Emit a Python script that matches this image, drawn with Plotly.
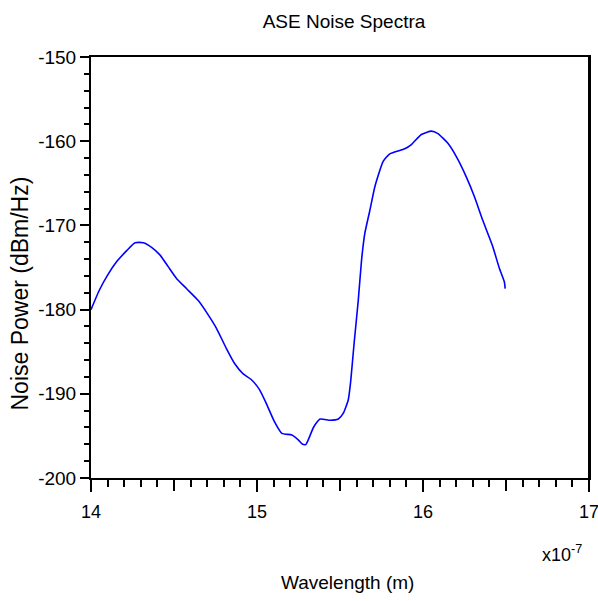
import plotly.graph_objects as go

# Wavelength in units of 1e-7 m
wavelength = [14.00, 14.05, 14.10, 14.155, 14.215, 14.265, 14.315, 14.365, 14.415, 14.465,
              14.515, 14.575, 14.645, 14.705, 14.755, 14.815, 14.865, 14.915, 14.965, 15.015,
              15.055, 15.105, 15.15, 15.21, 15.25, 15.275, 15.295, 15.34, 15.38, 15.44,
              15.49, 15.52, 15.55, 15.565, 15.585, 15.61, 15.63, 15.65, 15.68, 15.71,
              15.76, 15.80, 15.89, 15.93, 15.99, 16.05, 16.09, 16.15, 16.20, 16.26,
              16.31, 16.36, 16.42, 16.46, 16.49, 16.495]
noise_power = [-180.0, -177.7, -175.9, -174.3, -173.0, -172.05, -172.05, -172.6, -173.5, -174.9,
               -176.3, -177.5, -178.9, -180.6, -182.2, -184.6, -186.4, -187.6, -188.3, -189.5,
               -191.1, -193.3, -194.7, -194.9, -195.5, -196.0, -196.0, -194.0, -193.0, -193.15,
               -193.0, -192.3, -190.7, -188.4, -184.0, -178.9, -174.1, -170.9, -168.2, -165.4,
               -162.4, -161.5, -160.9, -160.4, -159.2, -158.8, -159.1, -160.25, -161.8, -164.2,
               -166.6, -169.4, -172.5, -175.1, -176.7, -177.5]

x_tickvals = [14, 15, 16, 17]
x_ticktext = ["14", "15", "16", "17"]
x_half_ticks = [14.5, 15.5, 16.5]
y_tickvals = [-200, -190, -180, -170, -160, -150]
y_ticktext = ["-200", "-190", "-180", "-170", "-160", "-150"]

FONT = "Liberation Sans, Arial, sans-serif"

fig = go.Figure()
fig.add_trace(go.Scatter(x=wavelength, y=noise_power, mode="lines",
                         line=dict(color="#0000ff", width=1.6, shape="spline", smoothing=0.5),
                         showlegend=False))
# carrier trace for the overlay axis that draws the unlabeled half-unit ticks
fig.add_trace(go.Scatter(x=wavelength, y=noise_power, mode="none", xaxis="x2",
                         showlegend=False, hoverinfo="skip"))

fig.update_layout(
    width=598, height=601,
    margin=dict(l=91, r=9, t=57, b=123),
    paper_bgcolor="white", plot_bgcolor="white",
    font=dict(family=FONT, size=19, color="black"),
    title=dict(text="ASE Noise Spectra", x=344/598, xanchor="center",
               y=1-21.5/601, yanchor="middle", font=dict(size=19)),
    xaxis=dict(range=[14, 17], tickmode="array", tickvals=x_tickvals, ticktext=x_ticktext,
               ticks="outside", ticklen=12, tickwidth=2, tickcolor="black",
               showline=True, linecolor="black", linewidth=2, mirror=True,
               showgrid=False, zeroline=False, ticklabelstandoff=4, automargin=False,
               ticklabeloverflow="allow", tickfont=dict(size=18),
               minor=dict(dtick=0.1, tick0=14, ticks="outside", ticklen=7,
                          tickwidth=2, tickcolor="black", showgrid=False)),
    xaxis2=dict(range=[14, 17], overlaying="x", side="bottom", anchor="y", tickmode="array",
                tickvals=x_half_ticks, showticklabels=False,
                ticks="outside", ticklen=12, tickwidth=2, tickcolor="black",
                showline=False, showgrid=False, zeroline=False, automargin=False),
    yaxis=dict(range=[-200, -150], tickmode="array", tickvals=y_tickvals, ticktext=y_ticktext,
               ticks="outside", ticklen=9, tickwidth=2, tickcolor="black",
               showline=True, linecolor="black", linewidth=2, mirror=True,
               showgrid=False, zeroline=False, tickfont=dict(size=19), automargin=False,
               minor=dict(dtick=2, tick0=-200, ticks="outside", ticklen=5,
                          tickwidth=2, tickcolor="black", showgrid=False)),
)

# right frame edge
fig.add_shape(type="line", xref="paper", yref="paper", x0=1, x1=1, y0=0, y1=1,
              line=dict(color="black", width=2))

fig.add_annotation(text="Wavelength (m)", xref="paper", yref="paper",
                   x=(347.5-91)/498, y=(478-582)/421, xanchor="center", yanchor="middle",
                   showarrow=False, font=dict(size=19))
fig.add_annotation(text="Noise Power (dBm/Hz)", xref="paper", yref="paper",
                   x=(19.5-91)/498, y=(478-294)/421, xanchor="center", yanchor="middle",
                   textangle=-90, showarrow=False, font=dict(size=23))
fig.add_annotation(text="x10<sup>-7</sup>", xref="paper", yref="paper",
                   x=(584-91)/498, y=(478-553)/421, xanchor="right", yanchor="middle",
                   showarrow=False, font=dict(size=18))

fig.write_html("out.html", config={"displayModeBar": False},
               post_script="document.body.style.margin='0';")
